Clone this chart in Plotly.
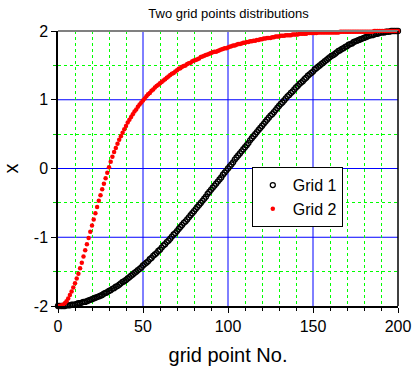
import plotly.graph_objects as go

# grid point index
point_no = list(range(201))

# Grid 1: cosine-clustered points (values read per index 0..200)
grid1_half = [
    -2.00, -2.00, -2.00, -2.00, -2.00, -1.99, -1.99, -1.99, -1.98, -1.98,
    -1.98, -1.97, -1.96, -1.96, -1.95, -1.94, -1.94, -1.93, -1.92, -1.91,
    -1.90, -1.89, -1.88, -1.87, -1.86, -1.85, -1.84, -1.82, -1.81, -1.80,
    -1.78, -1.77, -1.75, -1.74, -1.72, -1.71, -1.69, -1.67, -1.65, -1.64,
    -1.62, -1.60, -1.58, -1.56, -1.54, -1.52, -1.50, -1.48, -1.46, -1.44,
    -1.41, -1.39, -1.37, -1.35, -1.32, -1.30, -1.27, -1.25, -1.23, -1.20,
    -1.18, -1.15, -1.12, -1.10, -1.07, -1.05, -1.02, -0.99, -0.96, -0.94,
    -0.91, -0.88, -0.85, -0.82, -0.79, -0.77, -0.74, -0.71, -0.68, -0.65,
    -0.62, -0.59, -0.56, -0.53, -0.50, -0.47, -0.44, -0.41, -0.37, -0.34,
    -0.31, -0.28, -0.25, -0.22, -0.19, -0.16, -0.13, -0.09, -0.06, -0.03,
]
grid1 = grid1_half + [0.00] + [-v for v in reversed(grid1_half)]

# Grid 2: points clustered towards x = 2
grid2 = [
    -2.00, -2.00, -1.99, -1.98, -1.96, -1.93, -1.89, -1.84, -1.79, -1.73,
    -1.67, -1.60, -1.53, -1.45, -1.37, -1.28, -1.19, -1.10, -1.01, -0.92,
    -0.83, -0.74, -0.65, -0.56, -0.47, -0.39, -0.30, -0.22, -0.14, -0.06,
    0.02, 0.10, 0.17, 0.24, 0.30, 0.36, 0.42, 0.47, 0.52, 0.57,
    0.62, 0.67, 0.71, 0.75, 0.79, 0.83, 0.86, 0.90, 0.93, 0.96,
    0.99, 1.02, 1.05, 1.08, 1.10, 1.13, 1.15, 1.18, 1.20, 1.22,
    1.24, 1.26, 1.28, 1.30, 1.32, 1.34, 1.36, 1.38, 1.39, 1.41,
    1.43, 1.45, 1.46, 1.48, 1.49, 1.50, 1.52, 1.53, 1.54, 1.56,
    1.57, 1.58, 1.59, 1.60, 1.62, 1.63, 1.64, 1.65, 1.66, 1.67,
    1.68, 1.69, 1.70, 1.70, 1.71, 1.72, 1.73, 1.74, 1.75, 1.75,
    1.76, 1.77, 1.78, 1.79, 1.79, 1.80, 1.81, 1.81, 1.82, 1.83,
    1.83, 1.84, 1.84, 1.85, 1.85, 1.86, 1.86, 1.87, 1.87, 1.88,
    1.88, 1.89, 1.89, 1.90, 1.90, 1.90, 1.91, 1.91, 1.92, 1.92,
    1.92, 1.93, 1.93, 1.93, 1.94, 1.94, 1.94, 1.94, 1.95, 1.95,
    1.95, 1.95, 1.96, 1.96, 1.96, 1.96, 1.96, 1.97, 1.97, 1.97,
    1.97, 1.97, 1.97, 1.98, 1.98, 1.98, 1.98, 1.98, 1.98, 1.98,
    1.98, 1.98, 1.98, 1.98, 1.98, 1.98, 1.99, 1.99, 1.99, 1.99,
    1.99, 1.99, 1.99, 1.99, 1.99, 1.99, 1.99, 1.99, 1.99, 1.99,
    1.99, 1.99, 1.99, 1.99, 1.99, 1.99, 2.00, 2.00, 2.00, 2.00,
    2.00, 2.00, 2.00, 2.00, 2.00, 2.00, 2.00, 2.00, 2.00, 2.00,
    2.00,
]

x_ticks = [0, 50, 100, 150, 200]
x_minor = [10, 20, 30, 40, 60, 70, 80, 90, 110, 120, 130, 140, 160, 170, 180, 190]
y_ticks = [-2, -1, 0, 1, 2]
y_labels = ["-2", "-1", "0", "1", "2"]
y_minor = [-1.5, -0.5, 0.5, 1.5]

FONT = "Arial, Liberation Sans, sans-serif"
GRID_BLUE = "rgb(0,0,255)"

fig = go.Figure()
fig.add_trace(go.Scatter(
    x=point_no, y=grid1, mode="markers", name="Grid 1", cliponaxis=False,
    marker=dict(symbol="circle-open", size=5, color="black",
                line=dict(width=1.3, color="black")),
))
fig.add_trace(go.Scatter(
    x=point_no, y=grid2, mode="markers", name="Grid 2", cliponaxis=False,
    marker=dict(symbol="circle", size=4.5, color="#ff0000", line=dict(width=0)),
))

fig.update_layout(
    width=414, height=371,
    margin=dict(l=58, r=16, t=31, b=65, autoexpand=False),
    paper_bgcolor="white", plot_bgcolor="white",
    font=dict(family=FONT, color="black"),
    title=dict(text="Two grid points distributions", x=0.552, xanchor="center",
               y=0.965, yanchor="middle", font=dict(size=13)),
    showlegend=True,
    legend=dict(x=0.570, y=0.505, xanchor="left", yanchor="top",
                bordercolor="black", borderwidth=1, bgcolor="white",
                font=dict(size=16), itemwidth=30, tracegroupgap=0),
)

fig.update_xaxes(
    range=[0, 200], tickvals=x_ticks, ticks="outside", ticklen=5,
    tickcolor="black", tickfont=dict(size=16), showline=True,
    linecolor="black", linewidth=1.5, zeroline=False, automargin=False,
    showgrid=False,
    minor=dict(tickvals=x_minor, ticks="outside", ticklen=3, tickcolor="black",
               showgrid=True, gridcolor="#00ff00", griddash="dot", gridwidth=1),
    title=dict(text="grid point No.", font=dict(size=20), standoff=14),
)
fig.update_yaxes(
    range=[-2, 2], tickvals=y_ticks, ticktext=y_labels, ticks="outside",
    ticklen=5, tickcolor="black", tickfont=dict(size=16), showline=True,
    linecolor="black", linewidth=1.5, zeroline=False, automargin=False,
    showgrid=False,
    minor=dict(tickvals=y_minor, ticks="outside", ticklen=3, tickcolor="#00cc00",
               showgrid=True, gridcolor="#00ff00", griddash="dot", gridwidth=1),
    title=dict(text="x", font=dict(size=20), standoff=14),
)

# major grid lines in solid blue, above the dotted minor grid, below the data
for xv in x_ticks[1:-1]:
    fig.add_shape(type="line", xref="x", yref="paper", x0=xv, x1=xv, y0=0, y1=1,
                  line=dict(color=GRID_BLUE, width=1), layer="below")
for yv in y_ticks[1:-1]:
    fig.add_shape(type="line", xref="paper", yref="y", x0=0, x1=1, y0=yv, y1=yv,
                  line=dict(color=GRID_BLUE, width=1), layer="below")

# frame: grey top edge, black right edge
fig.add_shape(type="line", xref="paper", yref="paper", x0=0, x1=1, y0=1, y1=1,
              line=dict(color="#808080", width=2), layer="above")
fig.add_shape(type="line", xref="paper", yref="paper", x0=1, x1=1, y0=0, y1=1,
              line=dict(color="black", width=1.5), layer="above")

fig.write_html("out.html")
